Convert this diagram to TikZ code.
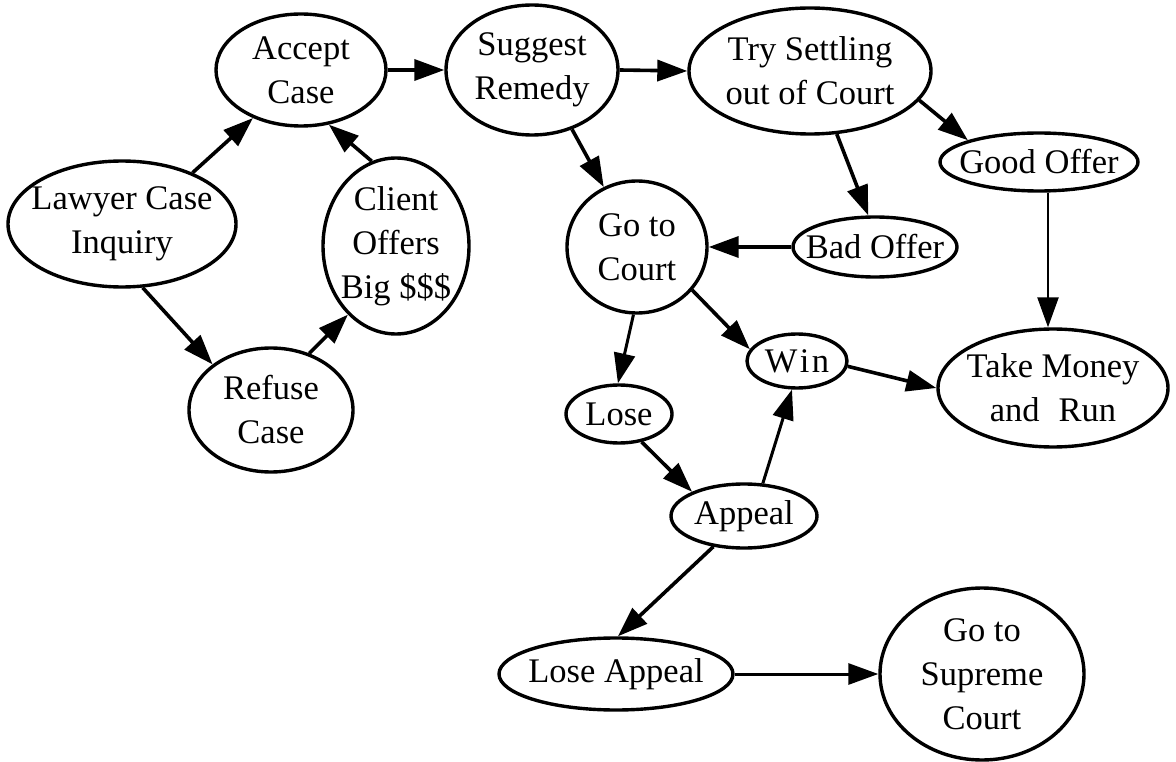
\documentclass[tikz,border=0pt]{standalone}
\usepackage{fontspec}
\setmainfont{Liberation Serif}
\usetikzlibrary{shapes.geometric,arrows.meta}
\begin{document}
\begin{tikzpicture}[x=1pt,y=-1pt,
  state/.style={ellipse,draw,line width=3.4pt,fill=white,
    inner xsep=-80pt,inner ysep=-40pt,align=center,
    font=\fontsize{34.5}{44}\selectfont},
  flow/.style={line width=3.6pt,-{Triangle[length=30pt,width=21pt]}},
  midflow/.style={flow,line width=3pt},
  thinflow/.style={flow,line width=2.5pt}]
\useasboundingbox (0,0) rectangle (1176,762);

% states
\node[state,minimum width=170pt,minimum height=112pt] (accept)  at (301,70)  {Accept\\Case};
\node[state,minimum width=172pt,minimum height=130pt] (suggest) at (532,70)  {Suggest\\Remedy};
\node[state,minimum width=242pt,minimum height=126pt] (try)     at (810,71)  {Try Settling\\out of Court};
\node[state,minimum width=198pt,minimum height=58pt]  (good)    at (1039,162) {Good Offer};
\node[state,minimum width=228pt,minimum height=126pt] (lawyer)  at (122,224) {Lawyer Case\\Inquiry};
\node[state,minimum width=146pt,minimum height=176pt] (client)  at (396,246) {Client\\Offers\\Big \$\$\$};
\node[state,minimum width=140pt,minimum height=132pt] (court)   at (637,247) {Go to\\Court};
\node[state,minimum width=164pt,minimum height=60pt]  (bad)     at (875,247) {Bad Offer};
\node[state,minimum width=164pt,minimum height=124pt] (refuse)  at (271,410) {Refuse\\Case};
\node[state,minimum width=100pt,minimum height=54pt]  (win)     at (797,361) {W\kern2.5pt i\kern2.5pt n};
\node[state,minimum width=230pt,minimum height=118pt] (money)   at (1053,388) {Take Money\\and\hspace{0.55em}Run};
\node[state,minimum width=106pt,minimum height=58pt]  (lose)    at (619,414) {Lose};
\node[state,minimum width=146pt,minimum height=64pt]  (appeal)  at (744,516) {Appeal};
\node[state,minimum width=234pt,minimum height=72pt]  (loseapp) at (616,674) {Lose Appeal};
\node[state,minimum width=204pt,minimum height=172pt] (supreme) at (982,674) {Go to\\Supreme\\Court};

% transitions
\draw[flow] (lawyer.36)  -- (accept.225);
\draw[flow] (client.106) -- (accept.297);
\draw[flow] (accept.east) -- (suggest.west);
\draw[flow] (suggest.east) -- (try.west);
\draw[flow] (suggest.304) -- (court.119);
\draw[flow] (try.345) -- (good.163);
\draw[flow] (try.293) -- (bad.102);
\draw[flow] (bad.west) -- (court.east);
\draw[thinflow] ([xshift=9pt]good.south) -- ([xshift=-5pt]money.north);
\draw[midflow] (court.267) -- (lose.92);
\draw[flow] (court.322) -- (win.166);
\draw[flow] (lose.309) -- (appeal.155);
\draw[midflow] (appeal.60) -- (win.260);
\draw[flow] (win.354) -- (money.180);
\draw[flow] (lawyer.288) -- (refuse.142);
\draw[flow] (refuse.56) -- (client.235);
\draw[flow] (appeal.225) -- (loseapp.87);
\draw[midflow] (loseapp.east) -- (supreme.west);
\end{tikzpicture}
\end{document}
